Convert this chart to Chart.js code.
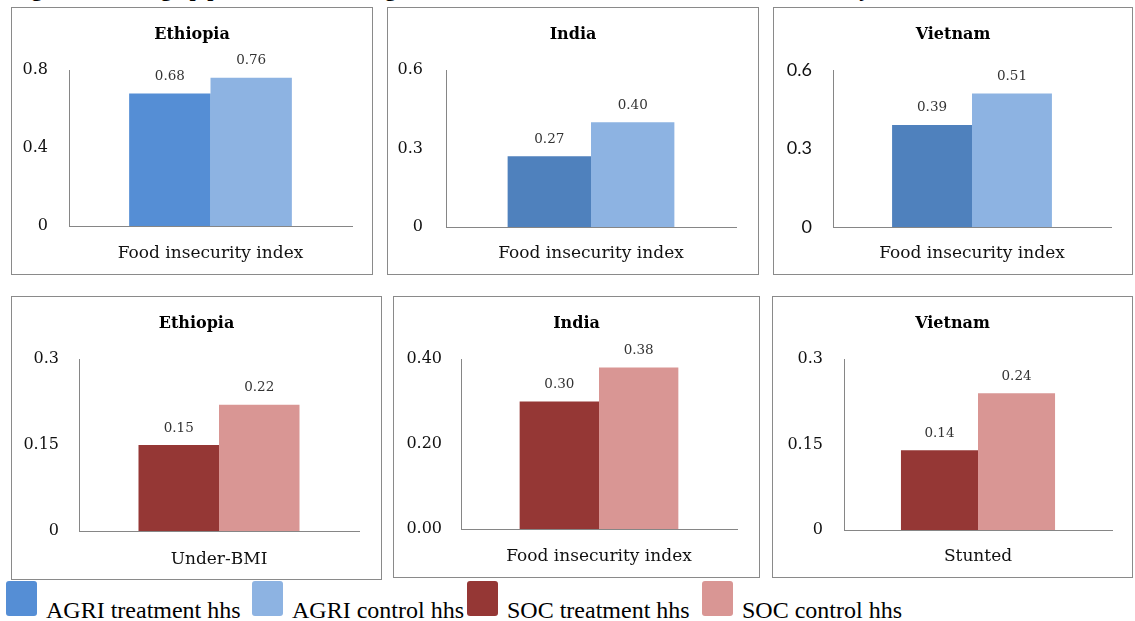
<!DOCTYPE html>
<html>
<head>
<meta charset="utf-8">
<script src="https://cdn.jsdelivr.net/npm/chart.js@4.4.1/dist/chart.umd.min.js"></script>
<style>
  html, body { margin: 0; padding: 0; background: #fff; }
  body { width: 1135px; height: 621px; position: relative; overflow: hidden; }
  .caption { position: absolute; left: 12px; top: -24px; line-height: 22px;
             font: bold 22px "Liberation Serif", serif; white-space: nowrap; color: #000; }
  .panel { position: absolute; }
  .panel canvas { position: absolute; left: 0; top: 0; }
  .frame { position: absolute; left: 0; top: 0; right: 0; bottom: 0;
           border: 1px solid #8a8a8a; box-sizing: border-box; pointer-events: none; }
  .legend-item { position: absolute; top: 581px; display: flex; align-items: flex-start;
                 font: 24px/24px "Liberation Serif", serif; color: #000; white-space: nowrap; }
  .swatch { width: 31px; height: 35px; border-radius: 3px; flex: none; }
  .label { margin: 17px 0 0 9px; }
</style>
</head>
<body>
<div class="caption">Figure 3: Scaling up positive effects of agricultural and social interventions on food security</div>
<div id="panels"></div>
<div id="legend"></div>

<script>
// ---- data ----
const seriesNames = ['AGRI treatment hhs', 'AGRI control hhs', 'SOC treatment hhs', 'SOC control hhs'];
const panelTitles = ['Ethiopia', 'India', 'Vietnam', 'Ethiopia', 'India', 'Vietnam'];
const panelCategories = ['Food insecurity index', 'Food insecurity index', 'Food insecurity index',
                         'Under-BMI', 'Food insecurity index', 'Stunted'];
const treatmentValues = [0.68, 0.27, 0.39, 0.15, 0.30, 0.14];
const controlValues   = [0.76, 0.40, 0.51, 0.22, 0.38, 0.24];
const tickValues = [[0, 0.4, 0.8], [0, 0.3, 0.6], [0, 0.3, 0.6],
                    [0, 0.15, 0.3], [0, 0.2, 0.4], [0, 0.15, 0.3]];
const tickLabels = [['0', '0.4', '0.8'], ['0', '0.3', '0.6'], ['0', '0.3', '0.6'],
                    ['0', '0.15', '0.3'], ['0.00', '0.20', '0.40'], ['0', '0.15', '0.3']];

// ---- styling ----
const seriesColors = ['#558ED5', '#8DB3E2', '#953735', '#D99694'];
const treatmentColors = ['#558ED5', '#4F81BD', '#4F81BD', '#953735', '#953735', '#953735'];
const controlColors   = ['#8DB3E2', '#8DB3E2', '#8DB3E2', '#D99694', '#D99694', '#D99694'];
const controlNames    = [1, 1, 1, 3, 3, 3];
const treatmentNames  = [0, 0, 0, 2, 2, 2];
const tickFonts = ['DejaVu Serif', 'DejaVu Serif', 'Lato', 'DejaVu Serif', 'DejaVu Serif', 'DejaVu Serif'];
const tickSizes = [16, 16, 18, 16, 16, 16];
const legendLeft = [6, 252, 467, 702];

// frame box, plot area, right edge of y tick labels, title centre y, category label centre y
const layoutSpec = [
  { box: [11, 7, 373, 275],    area: [69, 70, 352, 226],    tickRight: 48,  titleY: 35,  catY: 254 },
  { box: [387, 7, 759, 275],   area: [446, 70, 736, 227],   tickRight: 423, titleY: 35,  catY: 254 },
  { box: [773, 7, 1133, 275],  area: [833, 70, 1111, 227],  tickRight: 812, titleY: 35,  catY: 254 },
  { box: [11, 296, 382, 580],  area: [79, 359, 359, 531],   tickRight: 59,  titleY: 324, catY: 560 },
  { box: [393, 296, 760, 578], area: [461, 359, 737, 529],  tickRight: 442, titleY: 324, catY: 557 },
  { box: [772, 296, 1133, 578],area: [844, 359, 1112, 530], tickRight: 823, titleY: 324, catY: 557 }
];

const AXIS_GRAY = '#868686';
const TITLE_SIZE = 16, CAT_SIZE = 17;

// value labels above each bar
const valueLabels = {
  id: 'valueLabels',
  afterDatasetsDraw(chart) {
    const ctx = chart.ctx;
    ctx.save();
    ctx.font = '13.5px "DejaVu Serif", serif';
    ctx.fillStyle = '#333';
    ctx.textAlign = 'center';
    ctx.textBaseline = 'middle';
    chart.data.datasets.forEach((ds, i) => {
      chart.getDatasetMeta(i).data.forEach((bar, j) => {
        ctx.fillText(ds.data[j].toFixed(2), bar.x, bar.y - 17);
      });
    });
    ctx.restore();
  }
};

const host = document.getElementById('panels');

layoutSpec.forEach((spec, p) => {
  const [bl, bt, br, bb] = spec.box;
  const [al, at, ar, ab] = spec.area;
  const W = br - bl, H = bb - bt;
  const rightGap = br - ar;
  const yAxisWidth = al - bl;
  const xAxisHeight = bb - ab;
  const titleLine = TITLE_SIZE * 1.2;
  const titlePadTop = (spec.titleY - bt) - titleLine / 2;
  const titlePadBottom = (at - bt) - titlePadTop - titleLine;

  const wrap = document.createElement('div');
  wrap.className = 'panel';
  Object.assign(wrap.style, { left: bl + 'px', top: bt + 'px', width: W + 'px', height: H + 'px' });
  const canvas = document.createElement('canvas');
  canvas.width = W; canvas.height = H;
  canvas.style.width = W + 'px'; canvas.style.height = H + 'px';
  const frame = document.createElement('div');
  frame.className = 'frame';
  wrap.appendChild(canvas);
  wrap.appendChild(frame);
  host.appendChild(wrap);

  const tv = tickValues[p];
  new Chart(canvas, {
    type: 'bar',
    data: {
      labels: [panelCategories[p]],
      datasets: [
        { label: seriesNames[treatmentNames[p]], data: [treatmentValues[p]],
          backgroundColor: treatmentColors[p], borderWidth: 0 },
        { label: seriesNames[controlNames[p]], data: [controlValues[p]],
          backgroundColor: controlColors[p], borderWidth: 0 }
      ]
    },
    options: {
      responsive: false,
      animation: false,
      devicePixelRatio: 1,
      layout: { padding: 0 },
      datasets: { bar: { categoryPercentage: 0.575, barPercentage: 1 } },
      plugins: {
        legend: { display: false },
        tooltip: { enabled: false },
        title: {
          display: true,
          text: panelTitles[p],
          color: '#000',
          font: { family: 'DejaVu Serif', size: TITLE_SIZE, weight: 'bold', lineHeight: 1.2 },
          padding: { top: titlePadTop, bottom: titlePadBottom }
        }
      },
      scales: {
        x: {
          grid: { display: false, drawTicks: false },
          border: { display: true, color: AXIS_GRAY, width: 1 },
          ticks: {
            color: '#111', maxRotation: 0, autoSkip: false,
            padding: (spec.catY - ab) - CAT_SIZE * 1.2 / 2,
            font: { family: 'DejaVu Serif', size: CAT_SIZE, lineHeight: 1.2 }
          },
          afterFit(scale) { scale.height = xAxisHeight; }
        },
        y: {
          min: tv[0], max: tv[tv.length - 1],
          grid: { display: false, drawTicks: false },
          border: { display: true, color: AXIS_GRAY, width: 1 },
          ticks: {
            color: '#111',
            padding: al - spec.tickRight,
            font: { family: tickFonts[p], size: tickSizes[p], lineHeight: 1.2 },
            callback: (value, index) => tickLabels[p][index]
          },
          afterBuildTicks(scale) { scale.ticks = tv.map(v => ({ value: v })); },
          afterFit(scale) { scale.width = yAxisWidth; }
        },
        // empty right-hand scale keeping the margin between plot and frame
        gap: {
          type: 'linear', position: 'right',
          grid: { display: false, drawTicks: false },
          border: { display: false },
          ticks: { display: false },
          afterFit(scale) { scale.width = rightGap; }
        }
      }
    },
    plugins: [valueLabels]
  });
});

// shared legend for all six panels
const legend = document.getElementById('legend');
seriesNames.forEach((name, i) => {
  const item = document.createElement('div');
  item.className = 'legend-item';
  item.style.left = legendLeft[i] + 'px';
  const sw = document.createElement('div');
  sw.className = 'swatch';
  sw.style.background = seriesColors[i];
  const lb = document.createElement('div');
  lb.className = 'label';
  lb.textContent = name;
  item.appendChild(sw);
  item.appendChild(lb);
  legend.appendChild(item);
});
</script>
</body>
</html>
